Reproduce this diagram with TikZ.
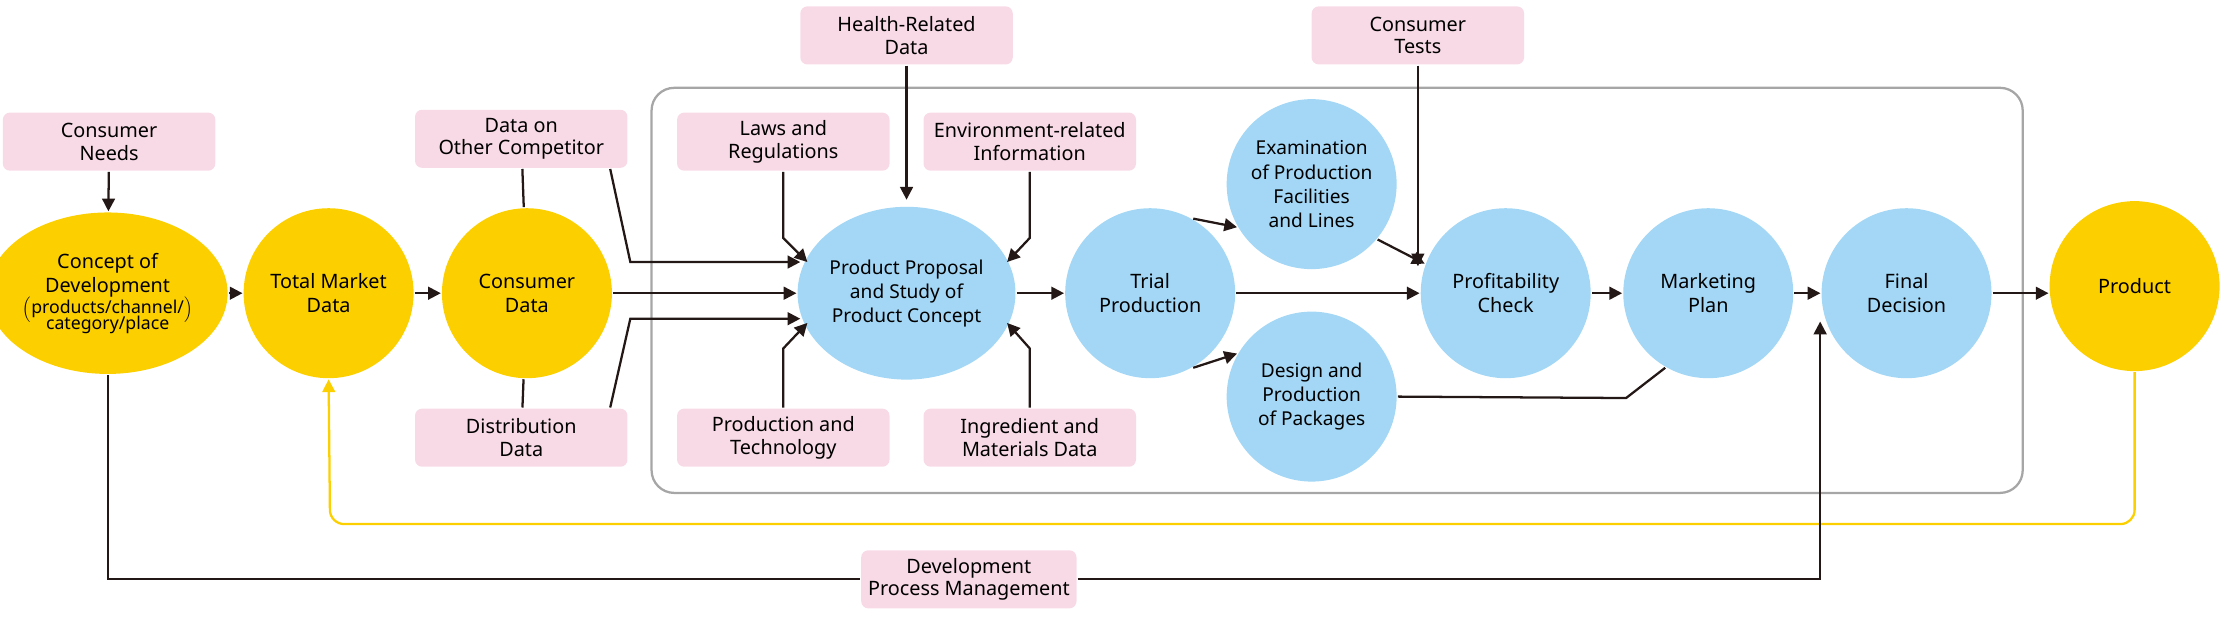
\documentclass[tikz,border=0pt]{standalone}
\usepackage{fontspec}
\setmainfont{Noto Sans}
\usetikzlibrary{arrows.meta,shapes.geometric}
\definecolor{cyel}{HTML}{FCD000}
\definecolor{cblue}{HTML}{A3D7F5}
\definecolor{cpink}{HTML}{F8DAE6}
\definecolor{cdark}{HTML}{231815}
\tikzset{every picture/.style={line width=1.6pt}}
\tikzset{
  yelnode/.style={circle,fill=cyel,minimum size=120pt,inner sep=0pt,align=center,font=\fontsize{14}{17}\selectfont\bfseries},
  bluenode/.style={circle,fill=cblue,minimum size=120pt,inner sep=0pt,align=center,font=\fontsize{14}{17}\selectfont\bfseries},
  pinkbox/.style={rectangle,rounded corners=5pt,fill=cpink,minimum width=150pt,minimum height=41pt,inner sep=1pt,align=center,font=\fontsize{14}{16}\selectfont},
  arr/.style={draw=cdark,-{Triangle[length=9pt,width=9pt]}},
  ln/.style={draw=cdark}
}
\begin{document}
\begin{tikzpicture}[x=1pt,y=1pt,yscale=-1]
\useasboundingbox (0,0) rectangle (1568,435.6);

% frame
\draw [draw=black!35,rounded corners=16pt] (460,62) rectangle (1428,348);

% circles
\node [yelnode,ellipse,minimum width=152pt,minimum height=114pt] (concept) at (76,207) {Concept of\\Development\\[-2pt]{\mdseries\fontsize{12.5}{14}\selectfont$\Big($products/channel/$\Big)$}\\[-6pt]{\mdseries\fontsize{12.5}{14}\selectfont category/place}};
\node [yelnode] (market) at (232,207) {Total Market\\Data};
\node [yelnode] (consumer) at (372,207) {Consumer\\Data};
\node [bluenode,ellipse,minimum width=150pt,minimum height=122pt,font=\fontsize{13.5}{17}\selectfont\bfseries] (proposal) at (640,207) {Product Proposal\\and Study of\\Product Concept};
\node [bluenode] (trial) at (812,207) {Trial\\Production};
\node [bluenode,font=\fontsize{13.5}{17}\selectfont\bfseries] (exam) at (926,130) {Examination\\of Production\\Facilities\\and Lines};
\node [bluenode,font=\fontsize{13.5}{17}\selectfont\bfseries] (design) at (926,280) {Design and\\Production\\of Packages};
\node [bluenode] (profit) at (1063,207) {Profitability\\Check};
\node [bluenode] (marketing) at (1206,207) {Marketing\\Plan};
\node [bluenode] (final) at (1346,207) {Final\\Decision};
\node [yelnode] (product) at (1507,202) {Product};

% pink boxes
\node [pinkbox] (needs) at (77,100) {Consumer\\Needs};
\node [pinkbox] (competitor) at (368,98) {Data on\\Other Competitor};
\node [pinkbox] (distribution) at (368,309) {Distribution\\Data};
\node [pinkbox] (health) at (640,25) {Health-Related\\Data};
\node [pinkbox] (laws) at (553,100) {Laws and\\Regulations};
\node [pinkbox] (environment) at (727,100) {Environment-related\\Information};
\node [pinkbox] (technology) at (553,309) {Production and\\Technology};
\node [pinkbox] (ingredient) at (727,309) {Ingredient and\\Materials Data};
\node [pinkbox] (tests) at (1001,25) {Consumer\\Tests};
\node [pinkbox,minimum width=152pt] (management) at (684,409) {Development\\Process Management};

% connectors
\draw [arr] (needs) -- (concept);
\draw [arr] (concept) -- (market);
\draw [arr] (market) -- (consumer);
\draw [arr] (consumer) -- (proposal);
\draw [ln] (competitor) -- (consumer);
\draw [ln] (distribution) -- (consumer);
\draw [arr] (competitor.south east) ++(-13,0) -- (445,185) -- (565,185);
\draw [arr] (distribution.north east) ++(-13,0) -- (445,225) -- (565,225);
\draw [arr] (health) -- (640,141);
\draw [arr] (laws) -- (553,168) -- (570,185);
\draw [arr] (environment) -- (727,168) -- (711,185);
\draw [arr] (technology) -- (553,246) -- (570,228);
\draw [arr] (ingredient) -- (727,246) -- (711,228);
\draw [arr] (proposal) -- (trial);
\draw [arr] (trial) -- (profit);
\draw [arr] (trial.60) -- (exam.-150);
\draw [arr] (trial.-60) -- (design.150);
\draw [arr] (exam.-40) -- (profit.160);
\draw [arr] (tests) -- (1001,188);
\draw [ln] (design.east) -- (1148,281) -- (marketing.-120);
\draw [arr] (profit) -- (marketing);
\draw [arr] (marketing) -- (final);
\draw [arr] (final) -- (product.west |- final);
\draw [arr,draw=cyel,rounded corners=10pt] (product.south) -- (1507,370) -- (233,370) -- (market.south);
\draw [arr,-{Triangle[length=9pt,width=9pt]}] (concept.south) -- (76,409) -- (management.west) (management.east) -- (1285,409) -- (1285,227);
\end{tikzpicture}
\end{document}
